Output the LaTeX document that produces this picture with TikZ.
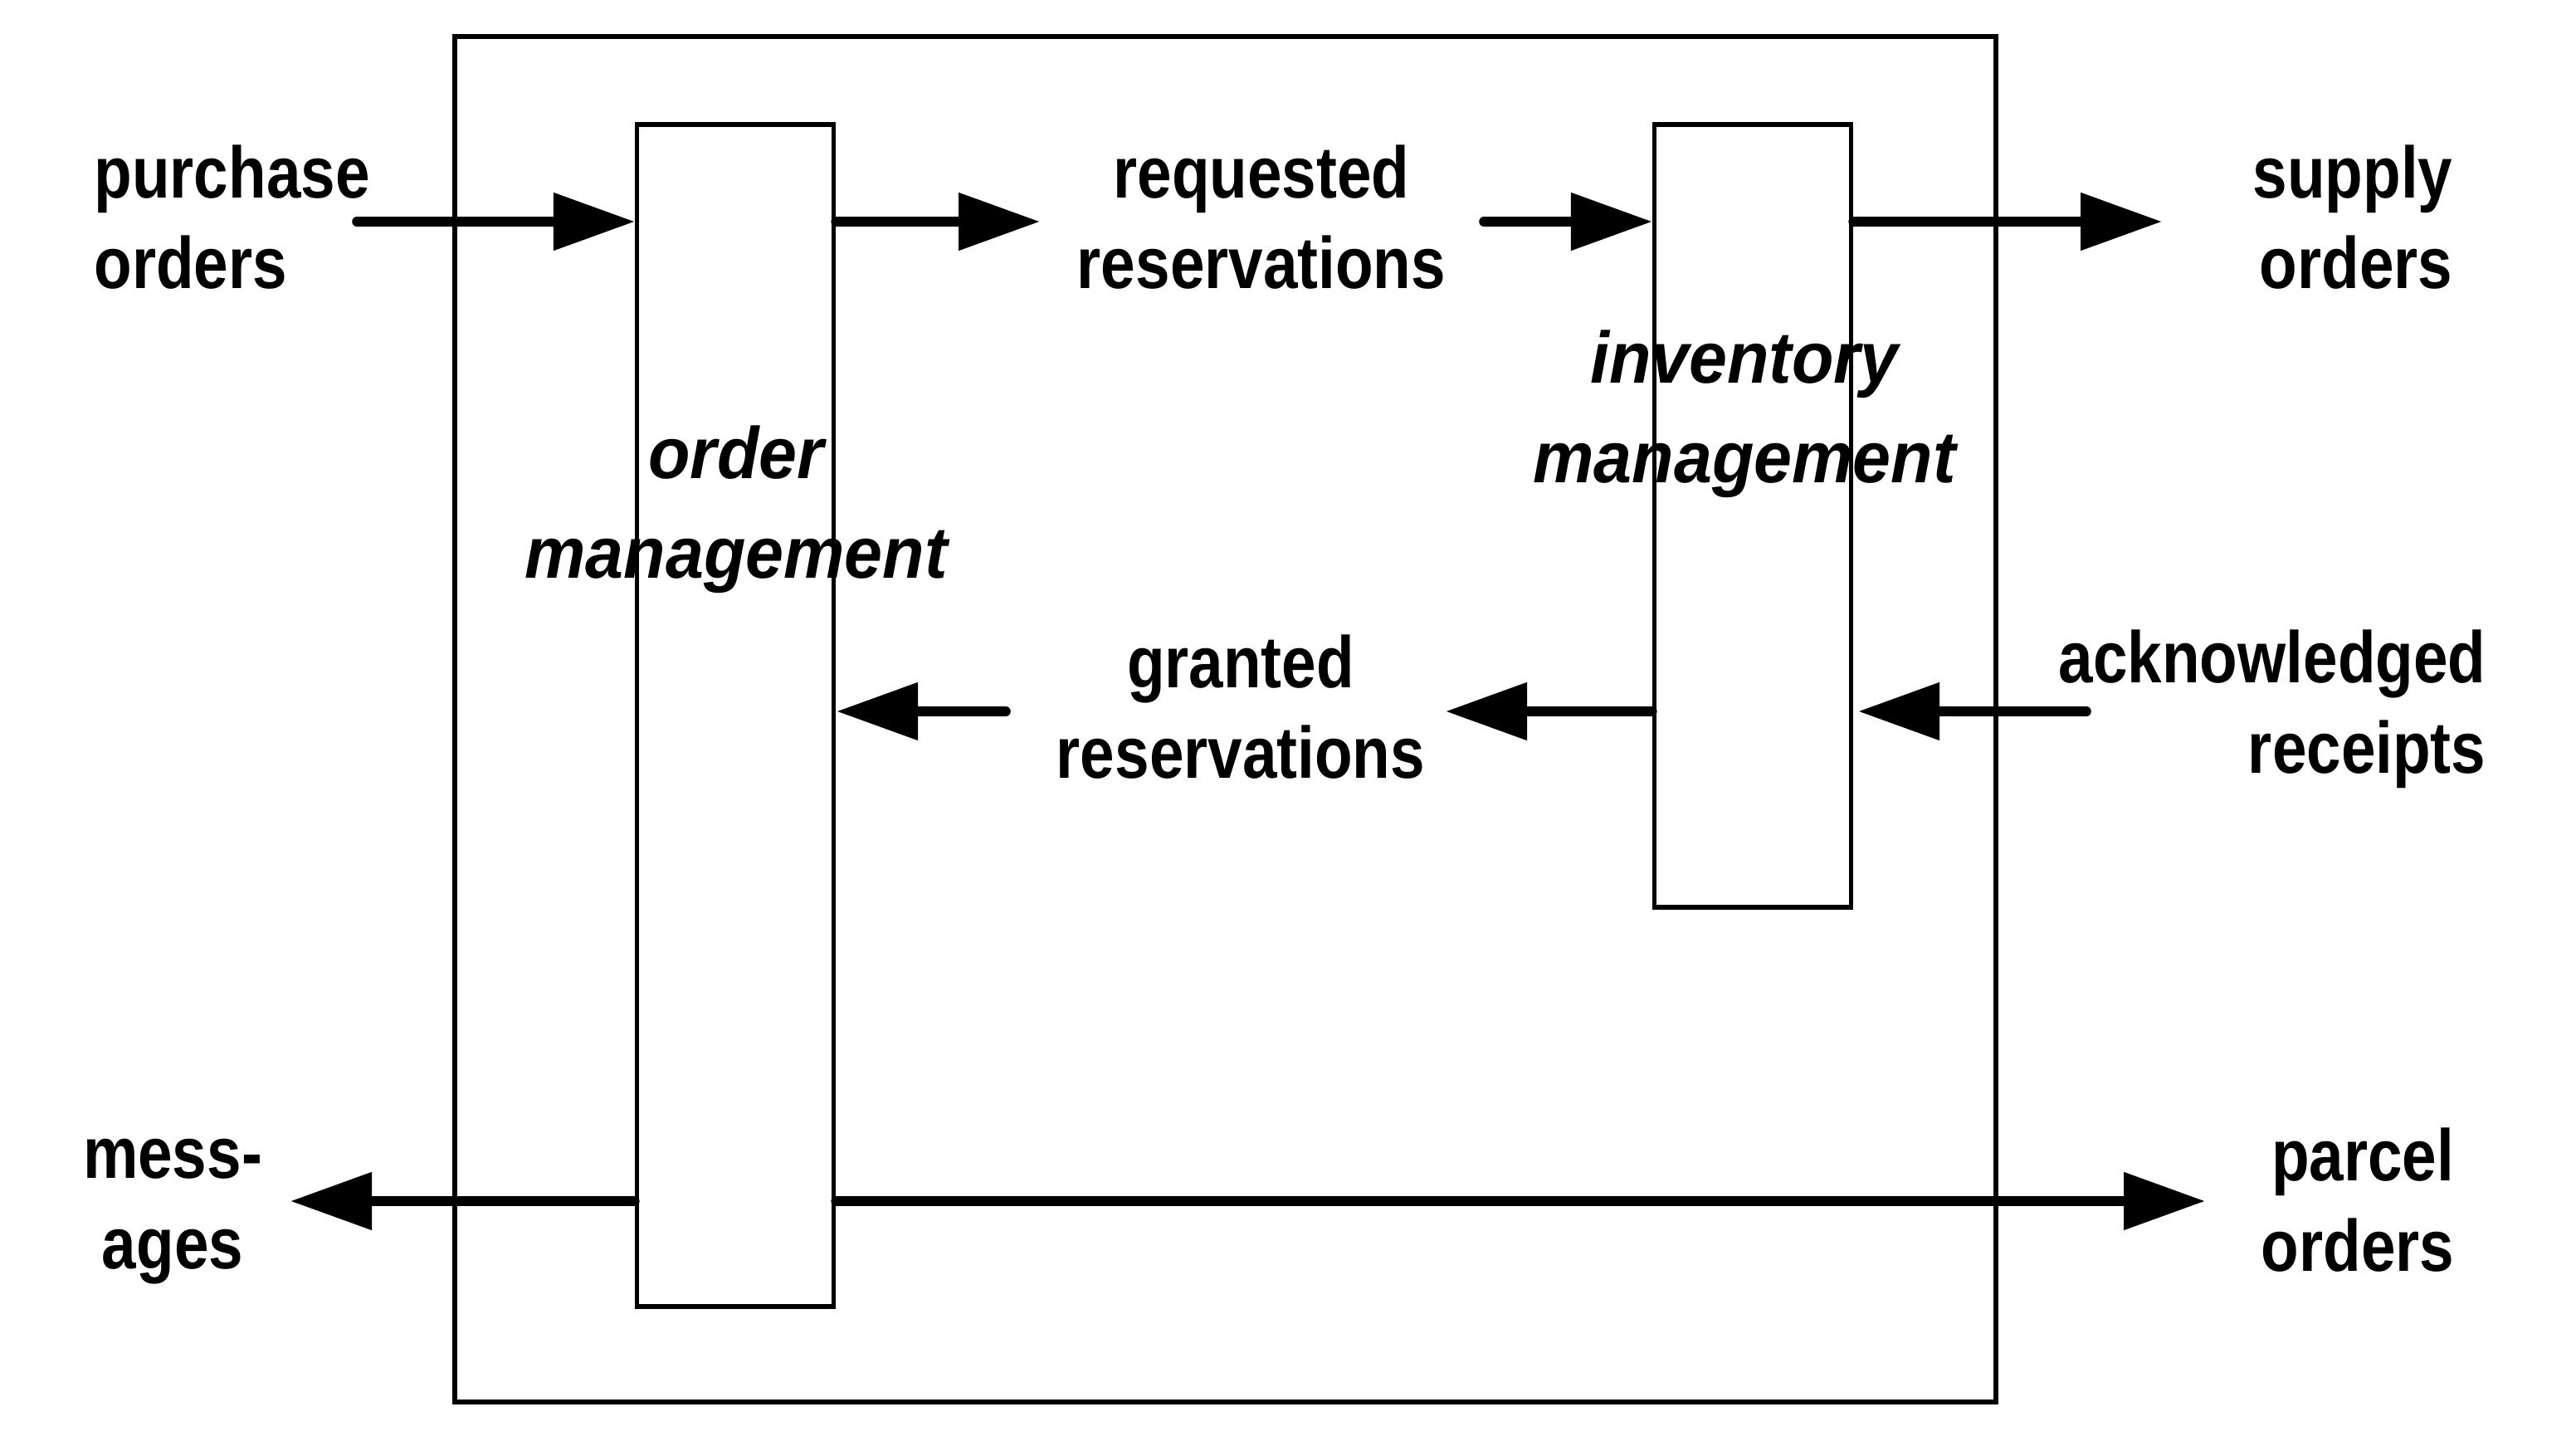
\documentclass[tikz,border=0pt]{standalone}
\usepackage{fontspec}
\setmainfont{Liberation Sans}
\newfontfamily\lblfont{Liberation Sans}[FakeStretch=0.85]
\newfontfamily\procfont{Liberation Sans}[FakeStretch=0.94]
\usetikzlibrary{positioning, arrows.meta, calc}

\begin{document}
\begin{tikzpicture}[
    line width=1.5pt,
    arrow/.style={
        -{Triangle[length=0.98cm, width=0.67cm]},
        line width=3.3pt,
        line cap=round
    },
    proc/.style={
        rectangle,
        draw,
        line width=1.5pt,
        minimum width=2.37cm,
        inner sep=0pt
    },
    system/.style={
        rectangle,
        draw,
        line width=1.5pt,
        minimum width=18.57cm,
        minimum height=16.45cm,
        inner sep=0pt
    },
    lbl/.style={
        font=\lblfont\bfseries\fontsize{25}{31}\selectfont,
        inner sep=0pt
    },
    proclbl/.style={
        font=\procfont\bfseries\itshape\fontsize{25}{34}\selectfont,
        align=center,
        inner sep=0pt
    }
]
    \useasboundingbox (0,0) rectangle (31.04,17.35);

    % System boundary
    \node[system] (sys) at (14.765,8.685) {};

    % Processes
    \node[proc, minimum height=14.24cm] (om) at (8.86,8.73) {};
    \node[proc, minimum height=9.43cm] (im) at (21.12,11.135) {};
    \node[proclbl] (omlbl) at (8.87,11.21) {order\\management};
    \node[proclbl] (imlbl) at (21.02,12.36) {inventory\\management};

    % Flow labels
    \node[lbl, align=left, anchor=west] (po) at (1.11,14.73) {purchase\\orders};
    \node[lbl, align=center] (rr) at (15.20,14.73) {requested\\reservations};
    \node[lbl, align=right] (so) at (28.35,14.73) {supply\\orders};
    \node[lbl, align=center] (gr) at (14.95,8.83) {granted\\reservations};
    \node[lbl, align=right, anchor=east] (ar) at (29.98,8.81) {acknowledged\\receipts};
    \node[lbl, align=center] (ms) at (2.08,2.75) {mess-\\ages};
    \node[lbl, align=right] (pc) at (28.41,2.89) {parcel\\orders};

    % Rows and free ends
    \coordinate (r1) at (0,14.68);
    \coordinate (r2) at (0,8.78);
    \coordinate (r3) at (0,2.88);
    \coordinate (poend) at (4.30,14.68);
    \coordinate (rrin) at (12.53,14.68);
    \coordinate (rrout) at (17.88,14.68);
    \coordinate (soend) at (26.05,14.68);
    \coordinate (arend) at (25.14,8.78);
    \coordinate (grin) at (17.42,8.78);
    \coordinate (grout) at (12.12,8.78);
    \coordinate (msend) at (3.50,2.88);
    \coordinate (pcend) at (26.57,2.88);

    % Flows
    \draw[arrow] (poend) -- (om.west |- r1);
    \draw[arrow] (om.east |- r1) -- (rrin);
    \draw[arrow] (rrout) -- (im.west |- r1);
    \draw[arrow] (im.east |- r1) -- (soend);
    \draw[arrow] (arend) -- ($(im.east |- r2)+(0.06,0)$);
    \draw[arrow] (im.west |- r2) -- (grin);
    \draw[arrow] (grout) -- ($(om.east |- r2)+(0.01,0)$);
    \draw[arrow] (om.west |- r3) -- (msend);
    \draw[arrow] (om.east |- r3) -- (pcend);

\end{tikzpicture}
\end{document}
